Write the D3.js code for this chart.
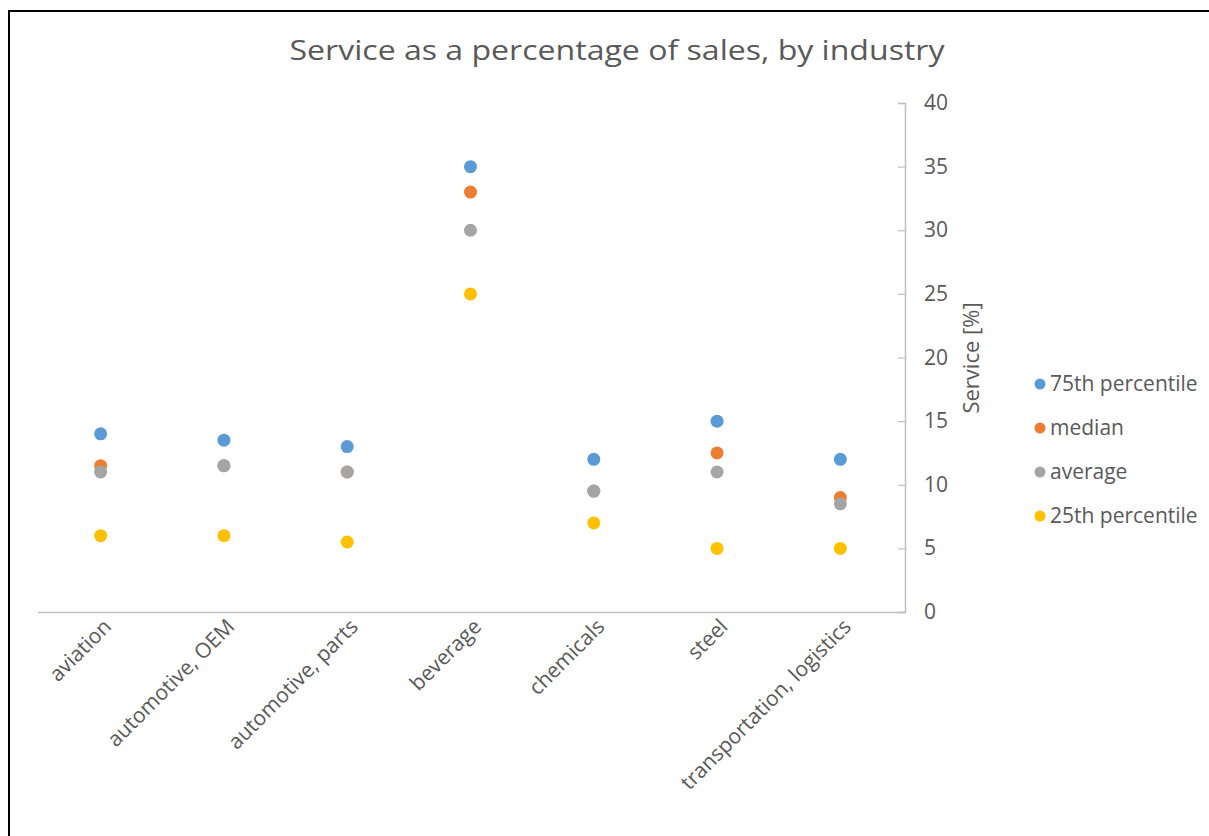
<!DOCTYPE html>
<html>
<head>
<meta charset="utf-8">
<script src="https://cdn.jsdelivr.net/npm/d3@7"></script>
<style>
  body { margin: 0; background: #fff; }
  svg { display: block; }
</style>
</head>
<body>
<script>
// chart values
const industries = ['aviation', 'automotive, OEM', 'automotive, parts', 'beverage',
                    'chemicals', 'steel', 'transportation, logistics'];
const p75     = [14, 13.5, 13, 35, 12, 15, 12];
const median  = [11.5, 11.5, 11, 33, 9.5, 12.5, 9];
const average = [11, 11.5, 11, 30, 9.5, 11, 8.5];
const p25     = [6, 6, 5.5, 25, 7, 5, 5];
const seriesNames = ['75th percentile', 'median', 'average', '25th percentile'];
const seriesColors = ['#5B9BD5', '#ED7D31', '#A5A5A5', '#FFC000'];
const yTicks = [0, 5, 10, 15, 20, 25, 30, 35, 40];

const W = 1209, H = 836;
const font = 'Open Sans, Liberation Sans, sans-serif';
const textColor = '#595959';

const svg = d3.select('body').append('svg')
  .attr('width', W)
  .attr('height', H);

// frame lines (top and left only)
svg.append('line').attr('x1', 9).attr('x2', W).attr('y1', 11).attr('y2', 11)
  .attr('stroke', '#000').attr('stroke-width', 2);
svg.append('line').attr('x1', 9).attr('x2', 9).attr('y1', 10).attr('y2', H)
  .attr('stroke', '#000').attr('stroke-width', 2);

svg.append('text')
  .attr('x', 617).attr('y', 60)
  .attr('text-anchor', 'middle')
  .attr('textLength', 655)
  .attr('lengthAdjust', 'spacingAndGlyphs')
  .style('font-family', font)
  .style('font-size', '27px')
  .style('fill', textColor)
  .text('Service as a percentage of sales, by industry');

const x = d3.scaleBand().domain(industries).range([39, 902]);
const y = d3.scaleLinear().domain([0, 40]).range([612, 103]);
const axisX = 905;

// x axis baseline
svg.append('line')
  .attr('x1', 38).attr('x2', axisX)
  .attr('y1', y(0) + 0.5).attr('y2', y(0) + 0.5)
  .attr('stroke', '#BFBFBF').attr('stroke-width', 1.5);

// y axis on the right side, ticks pointing left
const yAxis = d3.axisLeft(y).tickValues(yTicks).tickSize(7).tickFormat(d => '');
const yG = svg.append('g')
  .attr('transform', 'translate(' + axisX + ',0)')
  .call(yAxis);
yG.select('.domain').attr('stroke', '#BFBFBF').attr('stroke-width', 1.5);
yG.selectAll('.tick line').attr('stroke', '#BFBFBF').attr('stroke-width', 1.2);

svg.selectAll('.ylab')
  .data(yTicks)
  .enter()
  .append('text')
  .attr('class', 'ylab')
  .attr('x', 924)
  .attr('y', d => y(d) + 7)
  .style('font-family', font)
  .style('font-size', '21px')
  .style('fill', textColor)
  .text(d => d);

svg.append('text')
  .attr('transform', 'translate(979,358) rotate(-90)')
  .attr('text-anchor', 'middle')
  .style('font-family', font)
  .style('font-size', '22px')
  .style('fill', textColor)
  .text('Service [%]');

// category labels, rotated
svg.selectAll('.xlab')
  .data(industries)
  .enter()
  .append('text')
  .attr('class', 'xlab')
  .attr('text-anchor', 'end')
  .attr('transform', d => 'translate(' + (x(d) + x.bandwidth() / 2 + 12) + ',628) rotate(-45)')
  .style('font-family', font)
  .style('font-size', '21px')
  .style('fill', textColor)
  .text(d => d);

// points, drawn in series order so later ones sit on top
const seriesValues = [p75, median, average, p25];
seriesValues.forEach((vals, i) => {
  svg.selectAll('.pt' + i)
    .data(vals)
    .enter()
    .append('circle')
    .attr('class', 'pt' + i)
    .attr('cx', (d, j) => x(industries[j]) + x.bandwidth() / 2)
    .attr('cy', d => y(d))
    .attr('r', 6.5)
    .attr('fill', seriesColors[i]);
});

// legend
const legendG = svg.selectAll('.legend')
  .data(seriesNames)
  .enter()
  .append('g')
  .attr('class', 'legend')
  .attr('transform', (d, i) => 'translate(1040,' + (384 + i * 44) + ')');
legendG.append('circle')
  .attr('r', 5.5)
  .attr('fill', (d, i) => seriesColors[i]);
legendG.append('text')
  .attr('x', 10)
  .attr('y', 7)
  .style('font-family', font)
  .style('font-size', '21px')
  .style('fill', textColor)
  .text(d => d);
</script>
</body>
</html>
